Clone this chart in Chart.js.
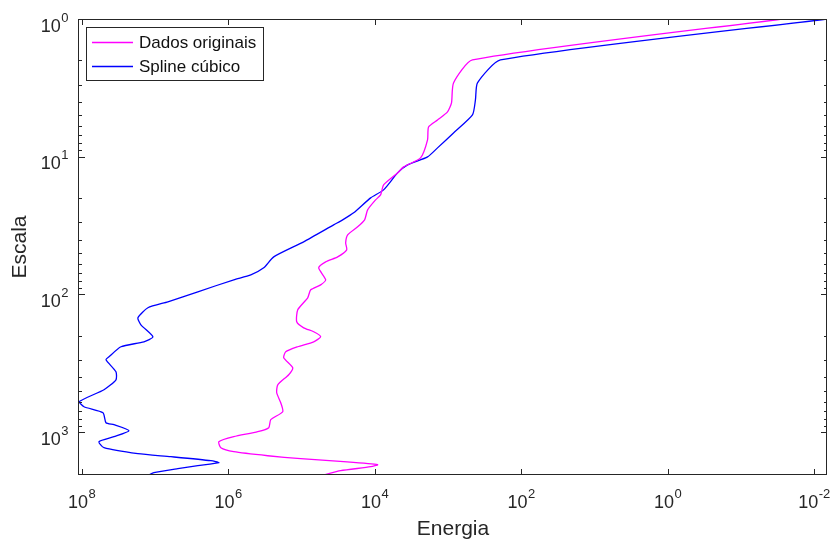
<!DOCTYPE html>
<html>
<head>
<meta charset="utf-8">
<script src="https://cdn.jsdelivr.net/npm/chart.js"></script>
<style>
  html, body { margin: 0; padding: 0; background: #fff; }
</style>
</head>
<body>
<canvas id="grafico" width="834" height="545"></canvas>
<script>
// Dados originais (escala x energia)
var escalaOriginais = [1, 1.984, 2.913, 4.07, 4.73, 5.41, 6.08, 7.55, 10.2, 11.86,
  13.11, 16.02, 18.93, 20.58, 24.32, 28.75, 32.3, 36.94, 42.23, 47.45,
  53.35, 58.0, 64.1, 78.3, 85.2, 92.6, 105.9, 129.3, 158, 174.8,
  186.8, 203.1, 220.8, 239.9, 260.9, 288.4, 341, 383, 453, 517.6,
  612, 711, 812, 929, 993, 1080, 1174, 1298, 1387, 1484,
  1560, 1640, 1725, 1783, 1906, 2048];
var energiaOriginais = [0.0273, 460, 835, 889, 1008, 1380, 1829, 1888, 2351, 4009,
  4843, 7516, 8260, 9660, 12420, 13650, 16990, 23270, 24770, 23990,
  31850, 46420, 57830, 46420, 54330, 74300, 81660, 111700, 115300, 92640,
  67610, 54330, 67610, 111700, 162900, 173400, 130800, 148300, 209400, 216300,
  190600, 179000, 260900, 277800, 392400, 833800, 1334000, 1253000, 833800, 286600,
  101700, 26370, 9073, 11300, 28980, 49430];

// Spline cubico
var escalaSpline = [1, 1.984, 2.913, 3.87, 4.97, 6.72, 8.63, 10.03, 11.47, 13.11,
  17.41, 19.9, 25.57, 28.75, 31.26, 41.5, 53.35, 64.1, 72.1, 78.3,
  95.7, 113.2, 125, 147.9, 166.2, 203.1, 220.8, 239.9, 283.6, 298.3,
  364.6, 416.7, 492, 601.6, 654, 723, 854, 883, 977, 1080,
  1174, 1298, 1435, 1508, 1613, 1667, 1753, 1843, 1971, 2048];
var energiaSpline = [0.00665, 191, 393, 419, 460, 835, 1380, 1888, 3538, 4843,
  7516, 11300, 19270, 27210, 36110, 92640, 237500, 325000, 488700, 833800,
  2.582e6, 6.62e6, 1.24e7, 1.698e7, 1.545e7, 1.06e7, 1.406e7, 2.894e7, 4.217e7, 4.634e7,
  3.385e7, 3.385e7, 4.934e7, 1.082e8, 9.245e7, 5.09e7, 4.634e7, 3.605e7, 2.25e7, 3.605e7,
  5.77e7, 4.934e7, 1.698e7, 6.03e6, 1.716e6, 1.334e6, 2.582e6, 4.834e6, 1.028e7, 1.202e7];

// Marcas dos eixos
var ticksEnergia = [1e8, 1e6, 1e4, 1e2, 1, 1e-2];
var ticksEscala = [1, 10, 100, 1000];
var limitesEnergia = [0.00665, 1.082e8];
var limitesEscala = [1, 2048];

var corEixo = '#262626';
var fonte = '"Liberation Sans", Arial, Helvetica, sans-serif';

function paraPontos(xs, ys) {
  return xs.map(function (v, i) { return { x: v, y: ys[i] }; });
}

// "10" com expoente em fonte menor, como no MATLAB
function desenhaPotencia(ctx, v, xRef, yBase, alinhamento) {
  var e = String(Math.round(Math.log10(v)));
  ctx.font = '18px ' + fonte;
  var w1 = ctx.measureText('10').width;
  ctx.font = '13px ' + fonte;
  var w2 = ctx.measureText(e).width;
  var x0 = alinhamento === 'center' ? xRef - (w1 + w2) / 2 : xRef - (w1 + w2);
  ctx.textBaseline = 'alphabetic';
  ctx.textAlign = 'left';
  ctx.font = '18px ' + fonte;
  ctx.fillText('10', x0, yBase);
  ctx.font = '13px ' + fonte;
  ctx.fillText(e, x0 + w1 + 0.5, yBase - 10);
}

// moldura, marcas internas, rotulos e legenda
const moldura = {
  id: 'moldura',
  afterDatasetsDraw(chart) {
    const ctx = chart.ctx;
    const a = chart.chartArea;
    const x = chart.scales.x, y = chart.scales.y;
    ctx.save();
    ctx.strokeStyle = corEixo;
    ctx.lineWidth = 1;
    ctx.beginPath();
    ticksEnergia.forEach(function (v) {
      const px = Math.round(x.getPixelForValue(v)) + 0.5;
      ctx.moveTo(px, a.bottom); ctx.lineTo(px, a.bottom - 6);
      ctx.moveTo(px, a.top); ctx.lineTo(px, a.top + 6);
    });
    for (let d = 0; d <= 3; d++) {
      for (let m = 1; m <= 9; m++) {
        const v = m * Math.pow(10, d);
        if (v > limitesEscala[1]) break;
        const py = Math.round(y.getPixelForValue(v)) + 0.5;
        const len = m === 1 ? 6 : 3;
        ctx.moveTo(a.left, py); ctx.lineTo(a.left + len, py);
        ctx.moveTo(a.right, py); ctx.lineTo(a.right - len, py);
      }
    }
    ctx.stroke();
    ctx.strokeRect(Math.round(a.left) - 0.5, Math.round(a.top) + 0.5,
      Math.round(a.right - a.left), Math.round(a.bottom - a.top) - 1);

    // rotulos dos eixos
    ctx.fillStyle = corEixo;
    ticksEnergia.forEach(function (v) {
      desenhaPotencia(ctx, v, x.getPixelForValue(v), a.bottom + 33, 'center');
    });
    ticksEscala.forEach(function (v) {
      desenhaPotencia(ctx, v, a.left - 11, y.getPixelForValue(v) + 12.5, 'right');
    });

    // legenda
    ctx.fillStyle = '#fff';
    ctx.fillRect(86.5, 27.5, 177, 53);
    ctx.strokeRect(86.5, 27.5, 177, 53);
    ctx.font = '17px ' + fonte;
    ctx.textBaseline = 'middle';
    chart.data.datasets.forEach(function (ds, i) {
      const ly = 42.5 + i * 24;
      ctx.strokeStyle = ds.borderColor;
      ctx.lineWidth = 1.3;
      ctx.beginPath();
      ctx.moveTo(92, ly); ctx.lineTo(133, ly);
      ctx.stroke();
      ctx.fillStyle = '#111';
      ctx.fillText(ds.label, 139, ly + 1);
    });
    ctx.restore();
  }
};

const config = {
  type: 'scatter',
  data: {
    datasets: [
      {
        label: 'Dados originais',
        data: paraPontos(energiaOriginais, escalaOriginais),
        showLine: true,
        borderColor: '#ff00ff',
        borderWidth: 1.3,
        pointRadius: 0,
        tension: 0.2,
      },
      {
        label: 'Spline cúbico',
        data: paraPontos(energiaSpline, escalaSpline),
        showLine: true,
        borderColor: '#0000ff',
        borderWidth: 1.3,
        pointRadius: 0,
        tension: 0.2,
      },
    ],
  },
  options: {
    responsive: false,
    animation: false,
    layout: { padding: { left: 0, top: 19, right: 7, bottom: 0 } },
    plugins: { legend: { display: false }, tooltip: { enabled: false } },
    scales: {
      x: {
        type: 'logarithmic',
        reverse: true,
        min: limitesEnergia[0],
        max: limitesEnergia[1],
        grid: { display: false },
        border: { display: false },
        afterBuildTicks: function (s) { s.ticks = ticksEnergia.map(function (v) { return { value: v }; }); },
        afterFit: function (s) { s.height = 70; s.paddingLeft = 0; s.paddingRight = 0; },
        ticks: { display: false },
        title: {
          display: true, text: 'Energia', color: corEixo,
          font: { size: 21, family: fonte }, padding: { top: 0, bottom: 3 },
        },
      },
      y: {
        type: 'logarithmic',
        reverse: true,
        min: limitesEscala[0],
        max: limitesEscala[1],
        grid: { display: false },
        border: { display: false },
        afterBuildTicks: function (s) { s.ticks = ticksEscala.map(function (v) { return { value: v }; }); },
        afterFit: function (s) { s.width = 79; s.paddingTop = 0; s.paddingBottom = 0; },
        ticks: { display: false },
        title: {
          display: true, text: 'Escala', color: corEixo,
          font: { size: 21, family: fonte }, padding: { top: 8, bottom: 0 },
        },
      },
    },
  },
  plugins: [moldura],
};

const grafico = new Chart(document.getElementById('grafico').getContext('2d'), config);
</script>
</body>
</html>
